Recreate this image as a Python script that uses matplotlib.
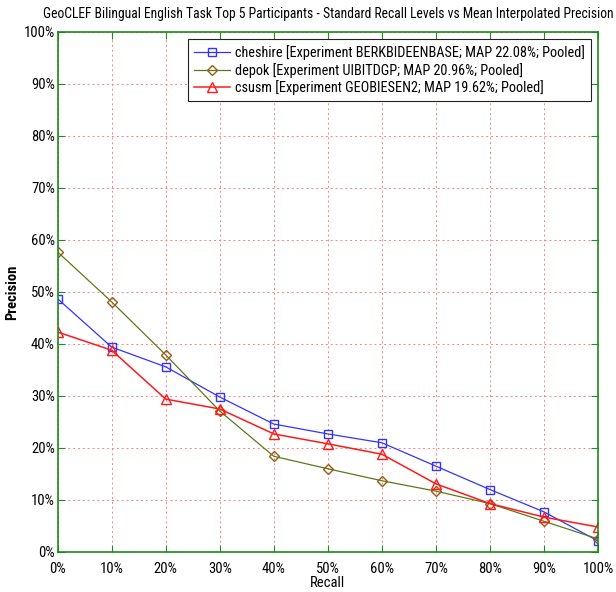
import numpy as np
import matplotlib
matplotlib.use('Agg')
import matplotlib.pyplot as plt
from matplotlib.ticker import FuncFormatter

plt.rcParams['font.family'] = ['Liberation Sans Narrow', 'Roboto Condensed',
                               'Liberation Sans', 'DejaVu Sans']

# 재현율 수준 (0% ~ 100%)
recall = [0, 10, 20, 30, 40, 50, 60, 70, 80, 90, 100]

cheshire = [48.7, 39.4, 35.6, 29.8, 24.6, 22.7, 21.0, 16.5, 12.0, 7.7, 2.1]
depok = [57.7, 48.1, 37.9, 27.1, 18.4, 16.0, 13.7, 11.7, 9.3, 5.9, 2.5]
csusm = [42.3, 38.8, 29.4, 27.5, 22.7, 20.8, 18.8, 13.1, 9.3, 6.7, 4.8]

labels = ['cheshire [Experiment BERKBIDEENBASE; MAP 22.08%; Pooled]',
          'depok [Experiment UIBITDGP; MAP 20.96%; Pooled]',
          'csusm [Experiment GEOBIESEN2; MAP 19.62%; Pooled]']

fig = plt.figure(figsize=(6.16, 5.92), dpi=100)
ax = fig.add_axes([0.0935, 0.0676, 0.8775, 0.8784])

ax.plot(recall, cheshire, color='#3333ff', lw=0.9, marker='s', ms=6,
        mfc='none', mec='#3333ff', label=labels[0])
ax.plot(recall, depok, color='#5a7a1a', lw=0.9, marker='D', ms=5.5,
        mfc='none', mec='#9b5a13', label=labels[1])
ax.plot(recall, csusm, color='#ff1a1a', lw=1.1, marker='^', ms=7,
        mfc='none', mec='#ff1a1a', label=labels[2])

ax.set_xlim(0, 100)
ax.set_ylim(0, 100)
ax.set_xticks(recall)
ax.set_yticks(np.arange(0, 101, 10))
pct = FuncFormatter(lambda v, p: f'{int(v)}%')
ax.xaxis.set_major_formatter(pct)
ax.yaxis.set_major_formatter(pct)
ax.tick_params(direction='in', length=5, color='#228b22', labelsize=10.5,
               top=True, right=True)
ax.tick_params(axis='x', pad=7)
ax.tick_params(axis='y', pad=2)
for s in ax.spines.values():
    s.set_color('#1a8a1a')
    s.set_linewidth(1.2)
ax.grid(True, color='#ff8080', ls=(0, (2, 3)), lw=0.7)

ax.set_title('GeoCLEF Bilingual English Task Top 5 Participants - Standard Recall Levels vs Mean Interpolated Precision',
             fontsize=9.8, pad=10)
ax.set_xlabel('Recall', fontsize=10.5, labelpad=0)
ax.set_ylabel('Precision', fontsize=10.5, fontweight='bold')
ax.yaxis.set_label_coords(-0.072, 0.5)

leg = ax.legend(loc='upper right', fontsize=10.3, borderaxespad=0.5,
                fancybox=False, framealpha=1, edgecolor='#222222',
                handlelength=2.5, handletextpad=0.4, labelspacing=0.2,
                borderpad=0.4)
leg.get_frame().set_linewidth(0.8)

plt.savefig('out.png', dpi=100)
